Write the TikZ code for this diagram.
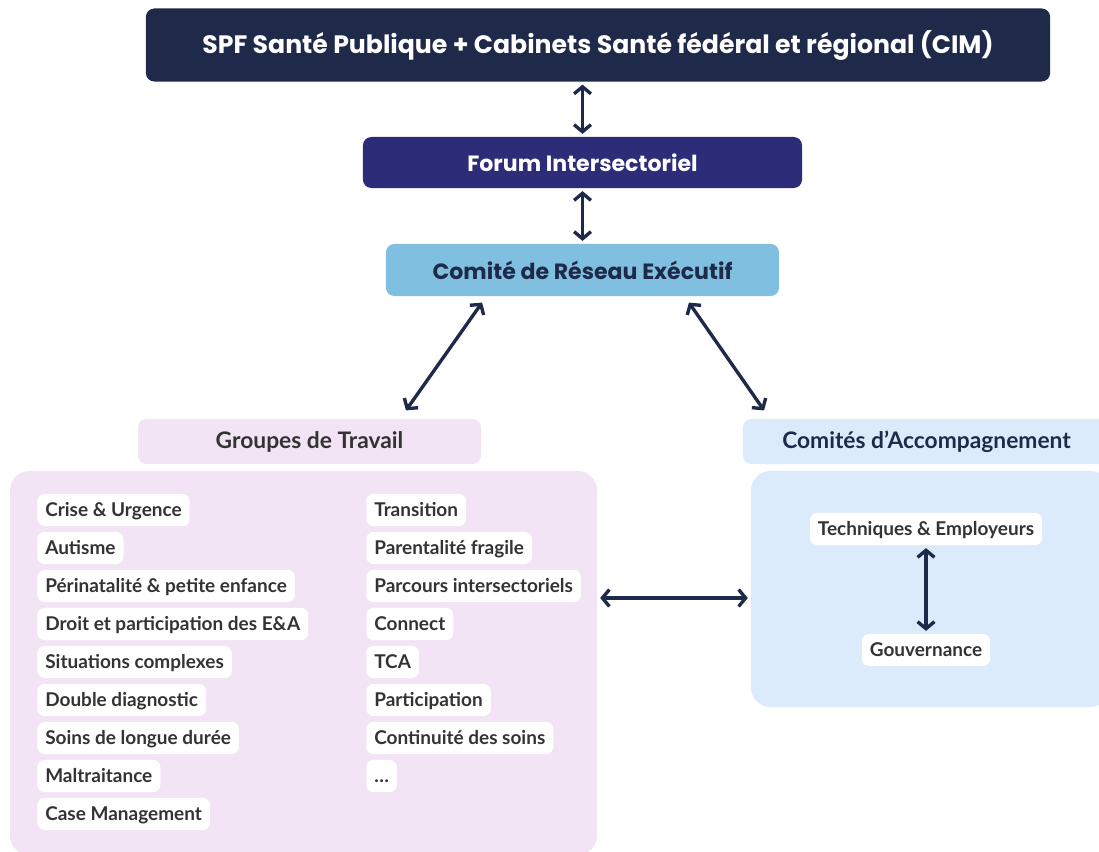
\documentclass[tikz,border=0pt]{standalone}
\usepackage{fontspec}
\setmainfont{Lato}
\newfontfamily\popfont{Poppins}
\usetikzlibrary{positioning,arrows.meta}
\definecolor{navy}{HTML}{1F2A4A}
\definecolor{forumblue}{HTML}{2C2C78}
\definecolor{comiteblue}{HTML}{80BFDF}
\definecolor{lilac}{HTML}{F2E4F5}
\definecolor{paleblue}{HTML}{DBEBFB}
\definecolor{itemtext}{HTML}{333333}
\tikzset{
  headbox/.style={rounded corners=6pt, font=\popfont\bfseries\fontsize{15.7}{18}\selectfont, inner sep=0pt},
  panel/.style={rounded corners=14pt, inner sep=0pt},
  item/.style={fill=white, rounded corners=5pt, text=itemtext, anchor=west,
    font=\bfseries\fontsize{13.5}{16}\selectfont, inner xsep=0.2cm, inner ysep=0pt,
    text height=0.95em, text depth=0em, minimum height=0.8cm},
  link/.style={draw=navy, line width=2.4pt, shorten <=2pt, shorten >=2pt,
    {Straight Barb[length=5pt,width=12pt]}-{Straight Barb[length=5pt,width=12pt]}}
}
\begin{document}
\begin{tikzpicture}[x=0.025cm,y=-0.025cm]
  \useasboundingbox (0,0) rectangle (1099,852);
  \clip (0,0) rectangle (1099,852);
  % levels
  \node[headbox, fill=navy, text=white, minimum width=22.6cm, minimum height=1.825cm,
        font=\popfont\bfseries\fontsize{17.9}{20}\selectfont] (spf) at (598,45)
        {SPF Santé Publique + Cabinets Santé fédéral et régional (CIM)};
  \node[headbox, fill=forumblue, text=white, minimum width=10.975cm, minimum height=1.275cm] (forum) at (582.5,162.5) {Forum Intersectoriel};
  \node[headbox, fill=comiteblue, text=navy, minimum width=9.825cm, minimum height=1.3cm] (cre) at (582.5,270) {Comité de Réseau Exécutif};
  % groups
  \node[panel, rounded corners=6pt, fill=lilac, text=itemtext, minimum width=8.575cm, minimum height=1.125cm,
        font=\bfseries\fontsize{16.2}{18}\selectfont] (gt) at (309.5,441.5) {Groupes de Travail};
  \node[panel, rounded corners=6pt, fill=paleblue, text=navy, minimum width=9.175cm, minimum height=1.125cm,
        font=\bfseries\fontsize{16.2}{18}\selectfont] (ca) at (926.5,441.5) {Comités d’Accompagnement};
  \node[panel, fill=lilac, minimum width=14.675cm, minimum height=9.6cm] (gtp) at (303.5,663) {};
  \node[panel, fill=paleblue, minimum width=8.975cm, minimum height=5.9cm] (cap) at (930.5,589) {};
  % working groups
  \foreach \txt [count=\i] in {Crise \& Urgence, Autisme, Périnatalité \& petite enfance,
      Droit et participation des E\&A, Situations complexes, Double diagnostic,
      Soins de longue durée, Maltraitance, Case Management}
    \node[item] (gl\i) at (37,{472+38*\i}) {\txt};
  \foreach \txt [count=\i] in {Transition, Parentalité fragile, Parcours intersectoriels,
      Connect, TCA, Participation, Continuité des soins, \ldots}
    \node[item] (gr\i) at (366,{472+38*\i}) {\txt};
  % committees
  \node[item, anchor=center] (tech) at (926,529) {Techniques \& Employeurs};
  \node[item, anchor=center] (gouv) at (926,650) {Gouvernance};
  % links
  \draw[link] (forum.north |- spf.south) -- (forum.north);
  \draw[link] (forum.south) -- (cre.north);
  \draw[link] ([xshift=2.45cm,yshift=-0.1cm]cre.south west) -- ([xshift=-1.925cm,yshift=0.15cm]gt.north east);
  \draw[link] ([xshift=-2.3cm,yshift=-0.1cm]cre.south east) -- ([xshift=0.575cm,yshift=0.15cm]ca.north west);
  \draw[link] ([yshift=-0.225cm]cap.west) -- ([yshift=-0.225cm]cap.west -| gtp.east);
  \draw[link] (tech.south) -- (gouv.north);
\end{tikzpicture}
\end{document}
